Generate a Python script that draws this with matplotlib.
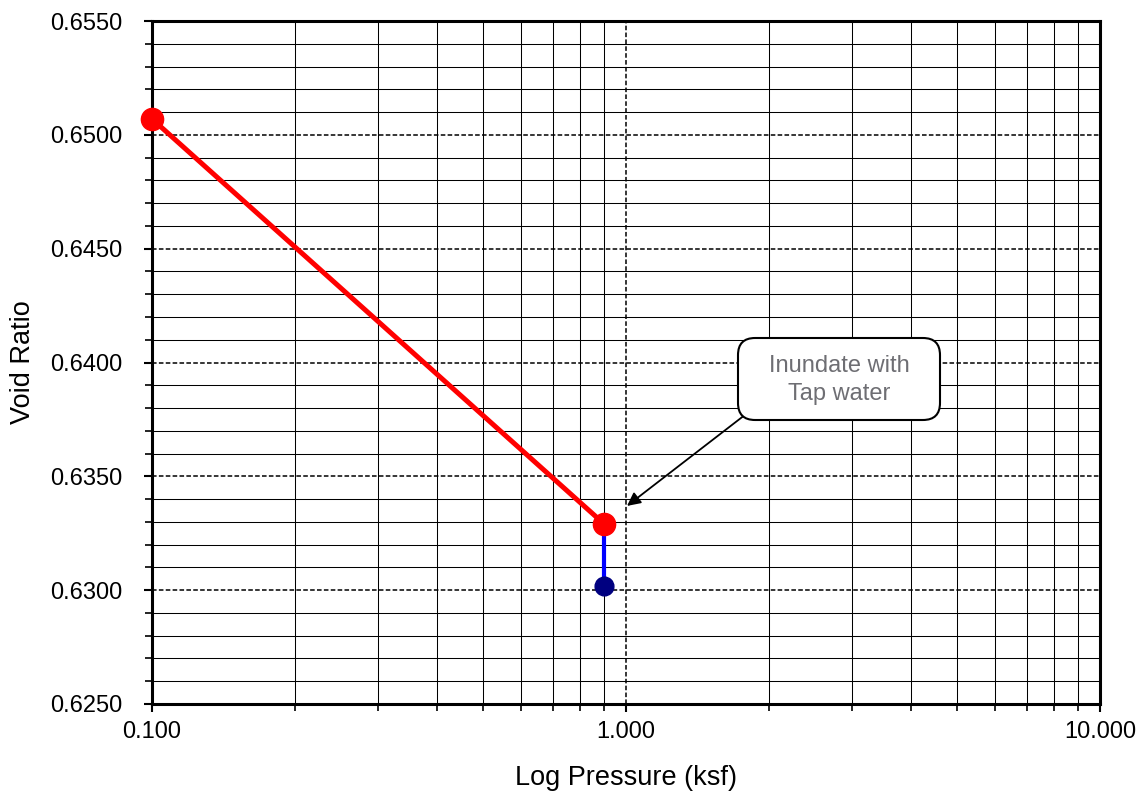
import matplotlib
matplotlib.use("Agg")
import matplotlib.pyplot as plt
from matplotlib.patches import FancyBboxPatch
from matplotlib.ticker import FixedLocator, FuncFormatter, MultipleLocator, LogLocator, NullFormatter

plt.rcParams['font.family'] = ['Liberation Sans', 'DejaVu Sans']

# Data
pressure_load = [0.1, 0.9]
void_load = [0.6507, 0.6329]
pressure_inund = [0.9, 0.9]
void_inund = [0.6329, 0.6302]
x_ticks = [0.1, 1.0, 10.0]
x_tick_labels = ["0.100", "1.000", "10.000"]

W, H = 1138, 791
fig = plt.figure(figsize=(W/100, H/100), dpi=100)
ax = fig.add_axes([152/W, 1-704/H, (1100-152)/W, (704-21)/H])

ax.set_xscale('log')
ax.set_xlim(0.1, 10)
ax.set_ylim(0.625, 0.655)

ax.xaxis.set_major_locator(FixedLocator(x_ticks))
ax.xaxis.set_major_formatter(FuncFormatter(lambda v, p: x_tick_labels[x_ticks.index(v)] if v in x_ticks else ""))
ax.xaxis.set_minor_locator(LogLocator(base=10, subs=range(2, 10)))
ax.xaxis.set_minor_formatter(NullFormatter())
ax.yaxis.set_major_locator(MultipleLocator(0.005))
ax.yaxis.set_minor_locator(MultipleLocator(0.001))
ax.yaxis.set_major_formatter(FuncFormatter(lambda v, p: f"{v:.4f}"))

ax.grid(which='major', color='black', linestyle=(0, (3, 1.5)), linewidth=1.1)
ax.grid(which='minor', color='black', linestyle='-', linewidth=0.75)
ax.set_axisbelow(True)

for s in ax.spines.values():
    s.set_linewidth(2.2)

ax.tick_params(which='both', direction='out', length=6, width=1.5, labelsize=17)
ax.tick_params(axis='y', which='major', pad=15)
ax.tick_params(axis='x', which='major', pad=6)
ax.tick_params(which='minor', length=5, width=1.2)

ax.plot(pressure_inund, void_inund, color='#0000FF', linewidth=3, zorder=3)
ax.plot(pressure_inund[1:], void_inund[1:], 'o', color='#000080', markersize=13.5, zorder=4)
ax.plot(pressure_load, void_load, color='#FF0000', linewidth=3.6, marker='o',
        markersize=16, zorder=5, clip_on=False)

# Callout: arrow, box and text
ax.annotate("", xy=(1.005, 0.6337), xytext=(1.77, 0.63765),
            arrowprops=dict(arrowstyle='-|>', color='black', lw=1.3, mutation_scale=20,
                            shrinkA=0, shrinkB=0), zorder=6)
box = FancyBboxPatch((738/W, 1-420/H), 202/W, 82/H, transform=fig.transFigure,
                     boxstyle='round,pad=0,rounding_size=0.015', fc='white', ec='black',
                     lw=1.5, zorder=7, mutation_aspect=W/H)
fig.patches.append(box)
fig.text(839/W, 1-380/H, "Inundate with\nTap water", ha='center', va='center',
         fontsize=17, color='#6E6E73', linespacing=1.3, zorder=8)

ax.set_xlabel("Log Pressure (ksf)", fontsize=19.5)
ax.set_ylabel("Void Ratio", fontsize=19.5)
ax.xaxis.set_label_coords(0.5, -(778-704)/683)
ax.xaxis.label.set_va('center')
ax.yaxis.set_label_coords((23-152)/948, 0.5)
ax.yaxis.label.set_va('center')

fig.savefig("out.png", dpi=100)
